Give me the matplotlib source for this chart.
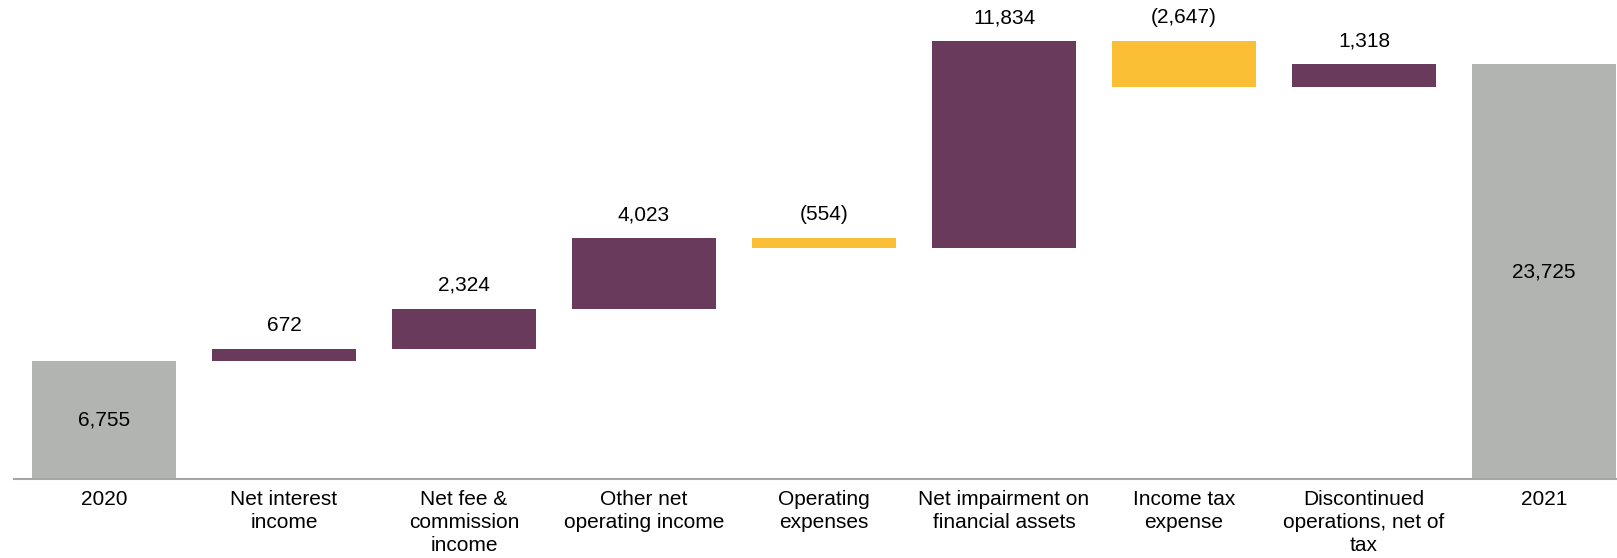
import matplotlib.pyplot as plt

plt.rcParams['font.family'] = ['Liberation Sans', 'DejaVu Sans']

categories = ["2020", "Net interest\nincome", "Net fee &\ncommission\nincome",
              "Other net\noperating income", "Operating\nexpenses",
              "Net impairment on\nfinancial assets", "Income tax\nexpense",
              "Discontinued\noperations, net of\ntax", "2021"]
start_value = 6755
changes = [672, 2324, 4023, -554, 11834, -2647, 1318]
end_value = 23725

GREY = "#b2b4b1"
PURPLE = "#6a3a5c"
YELLOW = "#fbbf36"


def fmt(v):
    s = f"{abs(v):,}"
    return f"({s})" if v < 0 else s


fig = plt.figure(figsize=(16.17, 5.58), dpi=100)
ax = fig.add_axes([14 / 1617, 1 - 479 / 558, 1 - 14 / 1617, 479 / 558])

width = 0.805
# totals
ax.bar(0, start_value, width, color=GREY)
ax.bar(len(categories) - 1, end_value, width, color=GREY)
ax.text(0, start_value / 2, fmt(start_value), ha="center", va="center", fontsize=15)
ax.text(len(categories) - 1, end_value / 2, fmt(end_value), ha="center", va="center", fontsize=15)

# floating steps
running = start_value
for i, d in enumerate(changes, start=1):
    lo = running if d > 0 else running + d
    top = lo + abs(d)
    ax.bar(i, abs(d), width, bottom=lo, color=PURPLE if d > 0 else YELLOW)
    ax.annotate(fmt(d), (i, top), xytext=(0, 10), textcoords="offset points",
                ha="center", va="bottom", fontsize=15)
    running += d

ax.set_xlim(-0.5, len(categories) - 1 + 0.5 - 17 / 180)
ax.set_ylim(0, 25054 * 479 / 438)
ax.set_xticks(range(len(categories)))
ax.set_xticklabels(categories, fontsize=15, linespacing=1.25)
ax.tick_params(axis="x", length=0, pad=8)
ax.set_yticks([])
for side in ["top", "right", "left"]:
    ax.spines[side].set_visible(False)
ax.spines["bottom"].set_color("#a6a6a6")
ax.spines["bottom"].set_linewidth(1.5)

fig.savefig("out.png", dpi=100)
